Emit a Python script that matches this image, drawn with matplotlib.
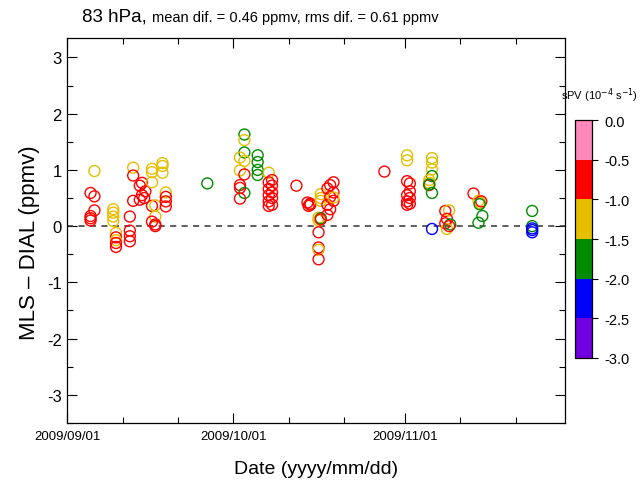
import datetime as dt
import numpy as np
import matplotlib
matplotlib.use('Agg')
import matplotlib.pyplot as plt
import matplotlib.dates as mdates
from matplotlib.colors import ListedColormap, BoundaryNorm

plt.rcParams['font.family'] = ['Liberation Sans', 'DejaVu Sans']
plt.rcParams['axes.unicode_minus'] = False

# data: days after 2009/09/01, MLS-DIAL difference (ppmv), sPV of each point
day = [4.2, 4.9, 4.9, 4.9, 4.2, 4.2, 4.2,
       8.3, 8.3, 8.3, 8.3,
       8.8, 8.8, 8.8, 8.8, 8.8,
       11.3, 11.3, 11.3, 11.3,
       11.9, 11.9, 11.9,
       13.5, 13.1, 14.1, 13.5, 13.9, 13.1,
       15.3, 15.3, 15.3, 15.3,
       15.9, 15.9, 15.3, 15.9, 15.9,
       17.2, 17.2, 17.2,
       17.8, 17.8, 17.8, 17.8,
       25.3,
       32.0, 32.0, 32.0, 31.2, 32.0, 31.2, 32.0, 31.2, 31.2, 32.0, 31.2,
       34.4, 34.4, 34.4, 34.4,
       36.4, 37.0, 36.4, 37.0, 36.4, 37.0, 36.4, 37.0, 36.4, 37.0, 36.4,
       41.4,
       43.4, 43.9, 43.6, 43.9,
       45.8, 45.8, 45.8,
       45.4, 45.4, 45.8, 45.8, 45.4, 45.4, 45.4, 45.4,
       48.1, 47.5, 47.0, 48.1, 47.5, 48.1, 47.0, 47.5, 47.0, 48.1,
       57.3,
       61.4, 61.4, 61.4, 61.9, 61.9, 61.4, 61.9, 61.4, 61.9, 61.4,
       65.9, 65.9, 65.9, 65.9, 65.4, 65.4, 65.4, 65.4, 65.9, 65.9,
       68.3, 69.0, 68.6, 68.3, 68.6, 69.2, 69.0,
       73.4, 74.3, 74.6, 74.8, 74.5, 75.0, 74.3,
       84.0, 84.0, 84.0, 84.0, 84.0]
diff = [0.59, 0.53, 0.98, 0.28, 0.18, 0.14, 0.10,
        0.30, 0.24, 0.17, 0.09,
        -0.12, -0.20, -0.25, -0.30, -0.37,
        0.17, -0.08, -0.18, -0.27,
        1.04, 0.90, 0.45,
        0.77, 0.72, 0.62, 0.55, 0.50, 0.47,
        1.02, 0.96, 0.78, 0.36,
        0.37, 0.17, 0.08, 0.03, 0.00,
        1.12, 1.07, 0.95,
        0.60, 0.52, 0.44, 0.35,
        0.76,
        1.63, 1.53, 1.31, 1.22, 1.16, 0.99, 0.92, 0.73, 0.68, 0.59, 0.49,
        1.26, 1.14, 1.00, 0.91,
        0.95, 0.82, 0.78, 0.72, 0.66, 0.60, 0.55, 0.50, 0.44, 0.38, 0.36,
        0.72,
        0.42, 0.38, 0.36, 0.40,
        0.57, 0.50, 0.45,
        0.15, 0.10, 0.14, 0.12, -0.11, -0.38, -0.42, -0.59,
        0.78, 0.73, 0.67, 0.60, 0.52, 0.45, 0.38, 0.30, 0.20, 0.51,
        0.97,
        1.26, 1.17, 0.80, 0.76, 0.62, 0.55, 0.50, 0.44, 0.40, 0.38,
        1.21, 1.13, 1.01, 0.89, 0.82, 0.77, 0.73, 0.74, 0.59, -0.05,
        0.27, 0.28, 0.13, 0.05, -0.05, 0.03, 0.00,
        0.58, 0.45, 0.41, 0.44, 0.39, 0.18, 0.06,
        0.27, 0.00, -0.04, -0.07, -0.11]
spv = [-0.75, -0.75, -1.25, -0.75, -0.75, -0.75, -0.75,
       -1.25, -1.25, -1.25, -1.25,
       -1.25, -0.75, -1.25, -0.75, -0.75,
       -0.75, -0.75, -0.75, -0.75,
       -1.25, -0.75, -0.75,
       -0.75, -0.75, -0.75, -0.75, -0.75, -0.75,
       -1.25, -1.25, -1.25, -0.75,
       -1.25, -1.25, -0.75, -0.75, -0.75,
       -1.25, -1.25, -1.25,
       -1.25, -0.75, -0.75, -0.75,
       -1.75,
       -1.75, -1.25, -1.75, -1.25, -1.25, -1.25, -0.75, -0.75, -0.75, -1.75, -0.75,
       -1.75, -1.75, -1.75, -1.75,
       -1.25, -0.75, -0.75, -0.75, -0.75, -0.75, -0.75, -0.75, -0.75, -0.75, -0.75,
       -0.75,
       -0.75, -0.75, -0.75, -0.75,
       -1.25, -1.25, -1.25,
       -1.25, -1.25, -1.75, -0.75, -0.75, -0.75, -1.25, -0.75,
       -0.75, -0.75, -0.75, -0.75, -0.75, -0.75, -0.75, -0.75, -0.75, -1.25,
       -0.75,
       -1.25, -1.25, -0.75, -0.75, -0.75, -0.75, -0.75, -0.75, -0.75, -0.75,
       -1.25, -1.25, -1.25, -1.75, -1.25, -1.25, -0.75, -1.75, -1.75, -2.25,
       -0.75, -1.25, -0.75, -0.75, -1.25, -1.75, -0.75,
       -0.75, -1.25, -1.25, -0.75, -1.75, -1.75, -1.75,
       -1.75, -1.75, -2.25, -2.25, -2.25]

spv_bounds = [-3.0, -2.5, -2.0, -1.5, -1.0, -0.5, 0.0]
spv_colors = ['#7000e0', '#0000ff', '#008c00', '#e6be00', '#ff0000', '#ff88bb']

start = dt.datetime(2009, 9, 1)
dates = [start + dt.timedelta(days=d) for d in day]

cmap = ListedColormap(spv_colors)
norm = BoundaryNorm(spv_bounds, cmap.N)

fig = plt.figure(figsize=(6.41, 4.85), dpi=100)
ax = fig.add_axes([0.105, 0.126, 0.777, 0.794])

ax.scatter(mdates.date2num(dates), diff, s=62, facecolors='none',
           edgecolors=cmap(norm(spv)), linewidths=1.0, zorder=3)
ax.axhline(0, color='#333333', lw=1.1, ls=(0, (4, 3.5)), zorder=2)

ax.set_xlim(mdates.date2num(start), mdates.date2num(dt.datetime(2009, 11, 30)))
ax.set_ylim(-3.5, 3.35)
ax.xaxis.set_major_locator(mdates.MonthLocator())
ax.xaxis.set_minor_locator(mdates.DayLocator(bymonthday=[11, 21]))
ax.xaxis.set_major_formatter(mdates.DateFormatter('%Y/%m/%d'))
ax.set_yticks(np.arange(-3, 4, 1))
ax.set_yticks(np.arange(-3.5, 3.5, 0.5), minor=True)
ax.tick_params(which='both', direction='in', top=True, right=True)
ax.tick_params(which='major', length=7, width=0.8)
ax.tick_params(which='minor', length=4, width=0.8)
ax.tick_params(axis='x', labelsize=9.5, pad=5)
ax.tick_params(axis='y', labelsize=12, pad=4)
for s in ax.spines.values():
    s.set_linewidth(0.9)

ax.set_xlabel('Date (yyyy/mm/dd)', fontsize=14, labelpad=13)
ax.set_ylabel('MLS \u2013 DIAL (ppmv)', fontsize=16, labelpad=5)
ax.yaxis.label.set_y(0.47)

fig.text(0.128, 0.955, '83 hPa,', fontsize=13.5)
fig.text(0.237, 0.955, 'mean dif. = 0.46 ppmv, rms dif. = 0.61 ppmv', fontsize=10.5)

# colorbar for sPV
cax = fig.add_axes([0.897, 0.260, 0.027, 0.490])
sm = matplotlib.cm.ScalarMappable(norm=norm, cmap=cmap)
cb = fig.colorbar(sm, cax=cax, ticks=spv_bounds)
cb.ax.set_yticklabels(['%.1f' % b for b in spv_bounds])
cb.ax.tick_params(direction='out', length=4, width=0.8, labelsize=10.5, pad=5)
cb.outline.set_linewidth(0.9)
fig.text(0.935, 0.795, 'sPV (10$^{-4}$ s$^{-1}$)', fontsize=8, ha='center')

fig.savefig('out.png', dpi=100)
